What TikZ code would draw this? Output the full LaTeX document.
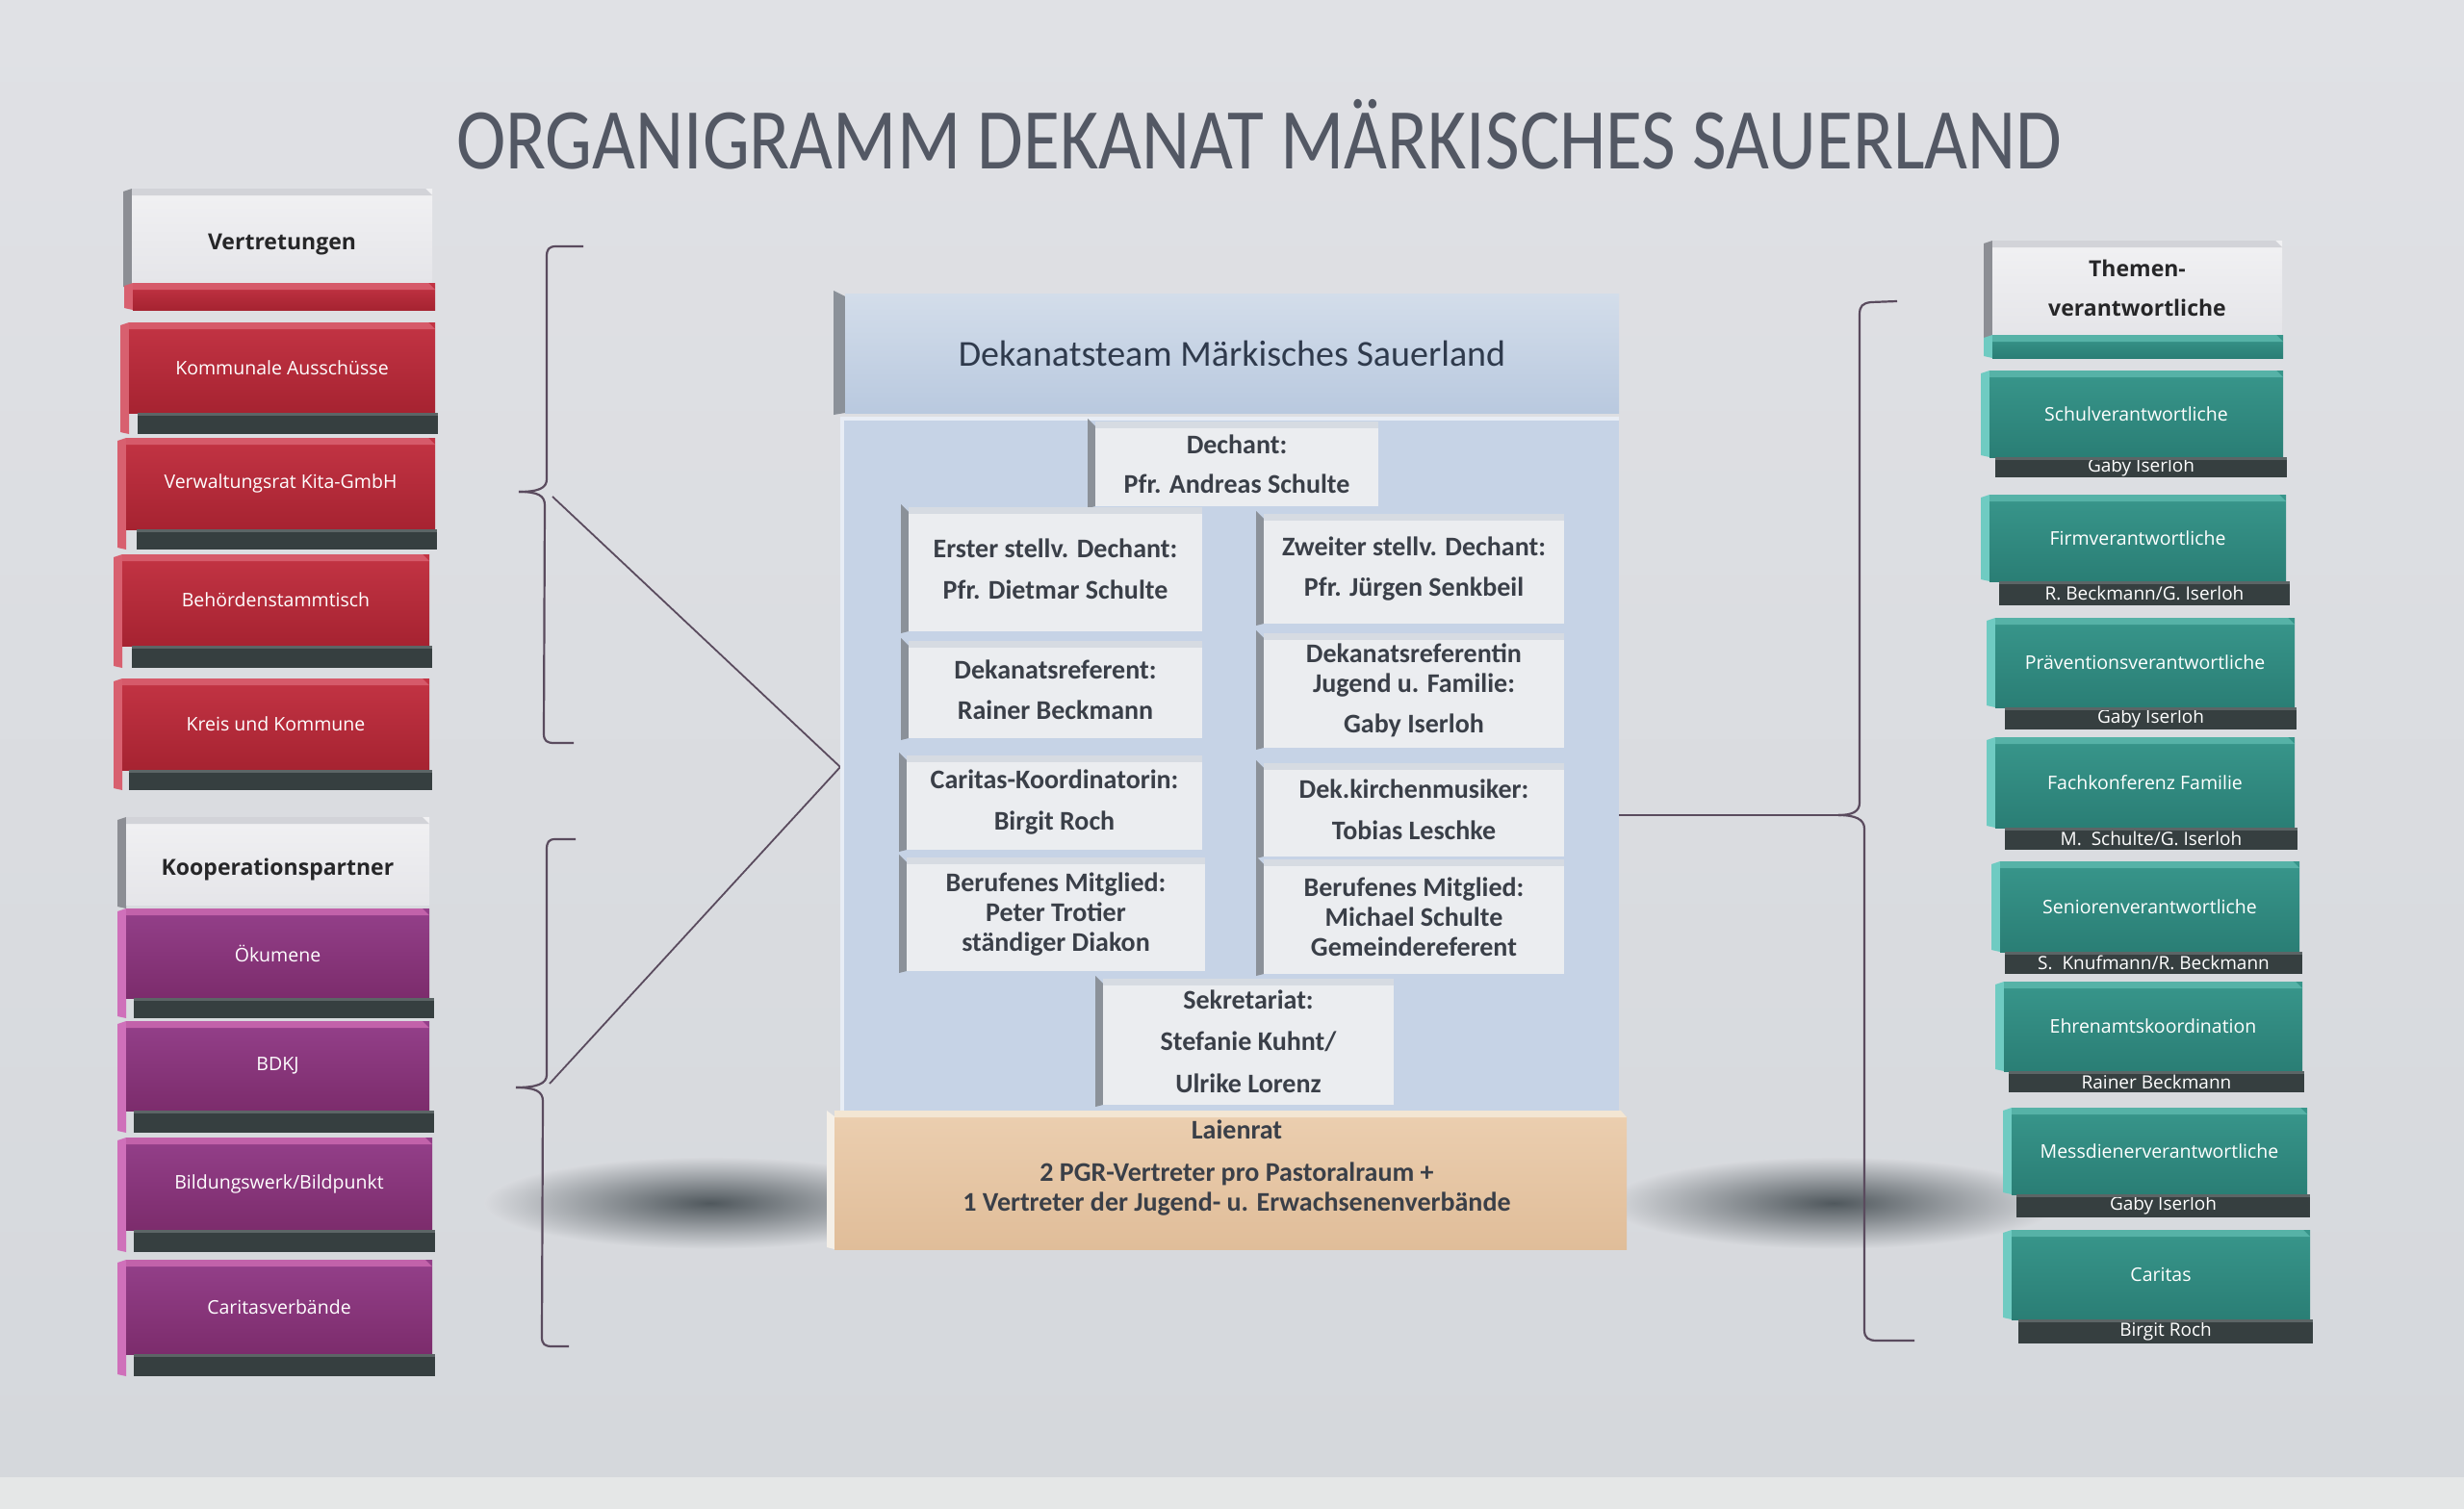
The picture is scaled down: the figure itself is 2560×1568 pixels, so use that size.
\documentclass[tikz,border=0pt]{standalone}
\usepackage{fontspec}
\usepackage{graphicx}
\setmainfont{Carlito}
\newfontfamily\osans{Open Sans}

\definecolor{cBgTop}{HTML}{E0E1E5}
\definecolor{cBgBot}{HTML}{D5D8DC}
\definecolor{cBgBand}{HTML}{E5E7E7}
\definecolor{cTitle}{HTML}{535864}
\definecolor{cRedA}{HTML}{C33444}
\definecolor{cRedB}{HTML}{A62331}
\definecolor{cRedTop}{HTML}{D65A6A}
\definecolor{cRedSide}{HTML}{D8606F}
\definecolor{cPurA}{HTML}{94408A}
\definecolor{cPurB}{HTML}{7C2C6C}
\definecolor{cPurTop}{HTML}{C262AA}
\definecolor{cPurSide}{HTML}{CF70BA}
\definecolor{cTealA}{HTML}{38968B}
\definecolor{cTealB}{HTML}{2A7E75}
\definecolor{cTealTop}{HTML}{56B2A7}
\definecolor{cTealSide}{HTML}{6FCBC2}
\definecolor{cWhiteA}{HTML}{F1F1F3}
\definecolor{cWhiteB}{HTML}{E5E5E9}
\definecolor{cWhiteTop}{HTML}{D2D3D8}
\definecolor{cWhiteSide}{HTML}{8C8E94}
\definecolor{cHeadText}{HTML}{262628}
\definecolor{cBar}{HTML}{363F40}
\definecolor{cBarTop}{HTML}{5C6566}
\definecolor{cHeadA}{HTML}{D3DDEA}
\definecolor{cHeadB}{HTML}{B9C9DF}
\definecolor{cHeadTxt}{HTML}{2F3A4C}
\definecolor{cSide}{HTML}{8B9199}
\definecolor{cBody}{HTML}{C6D3E6}
\definecolor{cFace}{HTML}{EBEDF0}
\definecolor{cTop}{HTML}{D6DBE2}
\definecolor{cText}{HTML}{3A3F48}
\definecolor{cLaiA}{HTML}{EBCEAF}
\definecolor{cLaiB}{HTML}{E0BD99}
\definecolor{cLaiTop}{HTML}{F3E6D3}
\definecolor{cLaiSide}{HTML}{F4EFE7}
\definecolor{cBrace}{HTML}{5A4B5E}
\definecolor{cShadow}{HTML}{50585D}
\definecolor{cShadowOut}{HTML}{D8DADE}

\tikzset{
  kface/.style={rectangle, inner sep=0pt, outer sep=0pt, text=white,
    font=\osans\fontsize{19.5}{23}\selectfont, align=center},
  redface/.style={top color=cRedA, bottom color=cRedB},
  redside/.style={fill=cRedSide},
  redtop/.style={fill=cRedTop},
  purface/.style={top color=cPurA, bottom color=cPurB},
  purside/.style={fill=cPurSide},
  purtop/.style={fill=cPurTop},
  tealface/.style={top color=cTealA, bottom color=cTealB},
  tealside/.style={fill=cTealSide},
  tealtop/.style={fill=cTealTop},
  whface/.style={top color=cWhiteA, bottom color=cWhiteB, text=cHeadText,
    font=\osans\bfseries\fontsize{23}{41}\selectfont},
  whside/.style={fill=cWhiteSide},
  whtop/.style={fill=cWhiteTop},
  barstyle/.style={rectangle, inner sep=0pt, outer sep=0pt, fill=cBar, text=white,
    font=\osans\fontsize{19}{22}\selectfont},
  cface/.style={rectangle, inner sep=0pt, outer sep=0pt, fill=cFace, text=cText,
    font=\bfseries\fontsize{28}{31}\selectfont, align=center},
  bracestyle/.style={draw=cBrace, line width=2.2pt, line join=round},
  titlestyle/.style={inner sep=0pt, text=cTitle, font=\fontsize{90}{90}\selectfont, anchor=base},
}

\newcommand{\lowered}[1]{\raisebox{-9pt}[\height][\depth]{#1}}

% side box: name, x1, y1, x2, y2, kind, text, side bottom
\newcommand{\kbox}[8]{%
  \fill[#6side] (#2-9,#3+3) -- (#2,#3) -- (#2,#8) -- (#2-9,#8-2) -- cycle;
  \node[kface,#6face,minimum width={#4-#2},minimum height={#5-#3}] (#1) at ({(#2+#4)/2},{(#3+#5)/2}) {#7};
  \fill[#6top] (#2,#3) -- (#4-7,#3) -- (#4,#3+7) -- (#2,#3+7) -- cycle;
}
% dark bar: name, x1, y1, x2, y2, text
\newcommand{\kbar}[6]{%
  \node[barstyle,minimum width={#4-#2},minimum height={#5-#3}] (#1) at ({(#2+#4)/2},{(#3+#5)/2}) {#6};
  \fill[cBarTop] (#2,#3) rectangle (#4,#3+3);
}
% centre box: name, x1, y1, x2, y2, text
\newcommand{\cbox}[6]{%
  \fill[cSide] (#2-8,#3-3) -- (#2,#3+5) -- (#2,#5) -- (#2-8,#5+2) -- cycle;
  \node[cface,minimum width={#4-#2},minimum height={#5-#3}] (#1) at ({(#2+#4)/2},{(#3+#5)/2}) {#6};
  \fill[cTop] (#2,#3) rectangle (#4,#3+7);
}

\begin{document}
\begin{tikzpicture}[x=1pt,y=-1pt]
\useasboundingbox (0,0) rectangle (2560,1568);
\fill[top color=cBgTop, bottom color=cBgBot] (0,0) rectangle (2560,1535);
\fill[cBgBand] (0,1535) rectangle (2560,1568);

% title
\node[titlestyle] (title) at (1308,176) {\resizebox{1668pt}{\height}{ORGANIGRAMM DEKANAT MÄRKISCHES SAUERLAND}};

% shadows
\shade[inner color=cShadow, outer color=cShadowOut] (738,1250) ellipse [x radius=235, y radius=48];
\shade[inner color=cShadow, outer color=cShadowOut] (1905,1250) ellipse [x radius=235, y radius=48];

% braces
\coordinate (l1tip) at (539,511);
\coordinate (l2tip) at (536,1130);
\coordinate (rtip) at (1910,847);
\coordinate (apex) at (873,797);
\draw[bracestyle] (606,256) -- (578,256) .. controls (570,256) and (568,259) .. (568,267)
  -- (568,498) .. controls (568,507) and (560,511) .. (l1tip);
\draw[bracestyle] (l1tip) .. controls (559,511) and (566,515) .. (566,525)
  -- (565,762) .. controls (565,770) and (568,772) .. (576,772) -- (596,772);
\draw[bracestyle] (598,872) -- (577,872) .. controls (570,872) and (568,875) .. (568,883)
  -- (568,1117) .. controls (568,1126) and (558,1130) .. (l2tip);
\draw[bracestyle] (l2tip) .. controls (556,1130) and (564,1134) .. (564,1144)
  -- (563,1389) .. controls (563,1397) and (566,1399) .. (574,1399) -- (591,1399);
\draw[bracestyle] (1971,313) -- (1944,314) .. controls (1935,315) and (1932,318) .. (1932,327)
  -- (1932,834) .. controls (1932,843) and (1925,847) .. (rtip);
\draw[bracestyle] (rtip) .. controls (1927,847) and (1937,851) .. (1937,861)
  -- (1937,1382) .. controls (1937,1390) and (1941,1393) .. (1950,1393) -- (1989,1393);
\coordinate (l1end) at (574,516);
\coordinate (l2end) at (571,1126);
\draw[bracestyle, line width=1.8pt] (l1end) -- (apex) -- (l2end);

% centre block
\fill[cSide] (866,302) -- (878,308) -- (878,429) -- (866,431) -- cycle;
\node[rectangle, inner sep=0pt, outer sep=0pt, top color=cHeadA, bottom color=cHeadB,
  minimum width=804, minimum height=124, text=cHeadTxt, font=\fontsize{38}{42}\selectfont]
  (team) at (1280,367) {Dekanatsteam Märkisches Sauerland};
\node[rectangle, inner sep=0pt, outer sep=0pt, fill=cBody, minimum width=809, minimum height=721]
  (body) at (1277.5,793.5) {};
\draw[draw=white!60!cBody, line width=4pt] (875,1154) -- (875,435) -- (1682,435);
\draw[bracestyle] (body.east |- rtip) -- (rtip);

\cbox{dechant}{1138}{438}{1432}{526}{Dechant:\\[10pt]Pfr. Andreas Schulte}
\cbox{erster}{944}{527}{1249}{656}{Erster stellv. Dechant:\\[12pt]Pfr. Dietmar Schulte}
\cbox{zweiter}{1313}{534}{1625}{648}{Zweiter stellv. Dechant:\\[11pt]Pfr. Jürgen Senkbeil}
\cbox{referent}{944}{666}{1249}{767}{Dekanatsreferent:\\[11pt]Rainer Beckmann}
\cbox{referentin}{1313}{658}{1625}{777}{Dekanatsreferentin\\Jugend u. Familie:\\[11pt]Gaby Iserloh}
\cbox{caritask}{942}{785}{1249}{883}{Caritas-Koordinatorin:\\[12pt]Birgit Roch}
\cbox{musiker}{1313}{793}{1625}{890}{Dek.kirchenmusiker:\\[12pt]Tobias Leschke}
\cbox{berufenl}{942}{891}{1252}{1009}{Berufenes Mitglied:\\Peter Trotier\\ständiger Diakon}
\cbox{berufenr}{1313}{893}{1625}{1012}{Berufenes Mitglied:\\Michael Schulte\\Gemeindereferent}
\cbox{sekretariat}{1146}{1017}{1448}{1148}{Sekretariat:\\[12pt]Stefanie Kuhnt/\\[13pt]Ulrike Lorenz}

\fill[cLaiSide] (859,1154) -- (867,1160) -- (867,1298) -- (859,1296) -- cycle;
\node[rectangle, inner sep=0pt, outer sep=0pt, top color=cLaiA, bottom color=cLaiB,
  minimum width=823, minimum height=138] (laienbox) at (1278.5,1229) {};
\fill[cLaiTop] (867,1154) -- (1684,1154) -- (1690,1161) -- (867,1161) -- cycle;
\node[cface, fill=none] (laienrat) at (1285,1214)
  {Laienrat\\[13pt]2 PGR-Vertreter pro Pastoralraum +\\1 Vertreter der Jugend- u. Erwachsenenverbände};

% left column: Vertretungen
\kbox{vertretungen}{137}{196}{449}{294}{wh}{\lowered{Vertretungen}}{300}
\kbox{vstrip}{138}{294}{452}{322}{red}{}{322}
\kbox{kommunal}{134}{335}{452}{429}{red}{Kommunale Ausschüsse}{451}
\kbar{kommunalbar}{143}{429}{455}{451}{}
\kbox{verwaltung}{131}{455}{452}{550}{red}{Verwaltungsrat Kita-GmbH}{571}
\kbar{verwaltungbar}{142}{550}{454}{571}{}
\kbox{behoerden}{127}{576}{446}{671}{red}{Behördenstammtisch}{694}
\kbar{behoerdenbar}{137}{671}{449}{694}{}
\kbox{kreis}{127}{705}{446}{800}{red}{Kreis und Kommune}{821}
\kbar{kreisbar}{134}{800}{449}{821}{}

% left column: Kooperationspartner
\kbox{kooperation}{131}{849}{446}{940}{wh}{\lowered{Kooperationspartner}}{944}
\kbox{oekumene}{131}{944}{446}{1037}{pur}{Ökumene}{1058}
\kbar{oekumenebar}{139}{1037}{451}{1058}{}
\kbox{bdkj}{131}{1061}{446}{1154}{pur}{BDKJ}{1177}
\kbar{bdkjbar}{139}{1154}{451}{1177}{}
\kbox{bildung}{131}{1182}{449}{1278}{pur}{Bildungswerk/Bildpunkt}{1301}
\kbar{bildungbar}{139}{1278}{452}{1301}{}
\kbox{caritasv}{131}{1309}{449}{1407}{pur}{Caritasverbände}{1430}
\kbar{caritasvbar}{139}{1407}{452}{1430}{}

% right column
\kbox{themen}{2070}{250}{2371}{348}{wh}{Themen-\\verantwortliche}{356}
\kbox{tstrip}{2070}{348}{2372}{372}{teal}{}{372}
\kbox{schul}{2067}{385}{2372}{475}{teal}{Schulverantwortliche}{475}
\kbar{schulbar}{2073}{475}{2376}{496}{Gaby Iserloh}
\kbox{firm}{2067}{514}{2375}{604}{teal}{Firmverantwortliche}{604}
\kbar{firmbar}{2077}{604}{2379}{629}{R. Beckmann/G. Iserloh}
\kbox{praevention}{2073}{642}{2384}{735}{teal}{Präventionsverantwortliche}{735}
\kbar{praeventionbar}{2083}{735}{2386}{758}{Gaby Iserloh}
\kbox{fachkonferenz}{2073}{766}{2384}{860}{teal}{Fachkonferenz Familie}{860}
\kbar{fachkonferenzbar}{2083}{860}{2387}{883}{M.\ \ Schulte/G. Iserloh}
\kbox{senioren}{2078}{895}{2389}{989}{teal}{Seniorenverantwortliche}{989}
\kbar{seniorenbar}{2083}{989}{2392}{1012}{S.\ \ Knufmann/R. Beckmann}
\kbox{ehrenamt}{2082}{1020}{2392}{1113}{teal}{Ehrenamtskoordination}{1113}
\kbar{ehrenamtbar}{2087}{1113}{2394}{1135}{Rainer Beckmann}
\kbox{messdiener}{2090}{1151}{2397}{1241}{teal}{Messdienerverantwortliche}{1241}
\kbar{messdienerbar}{2095}{1241}{2400}{1265}{Gaby Iserloh}
\kbox{caritas}{2090}{1278}{2400}{1371}{teal}{Caritas}{1371}
\kbar{caritasbar}{2097}{1371}{2403}{1396}{Birgit Roch}
\end{tikzpicture}
\end{document}
